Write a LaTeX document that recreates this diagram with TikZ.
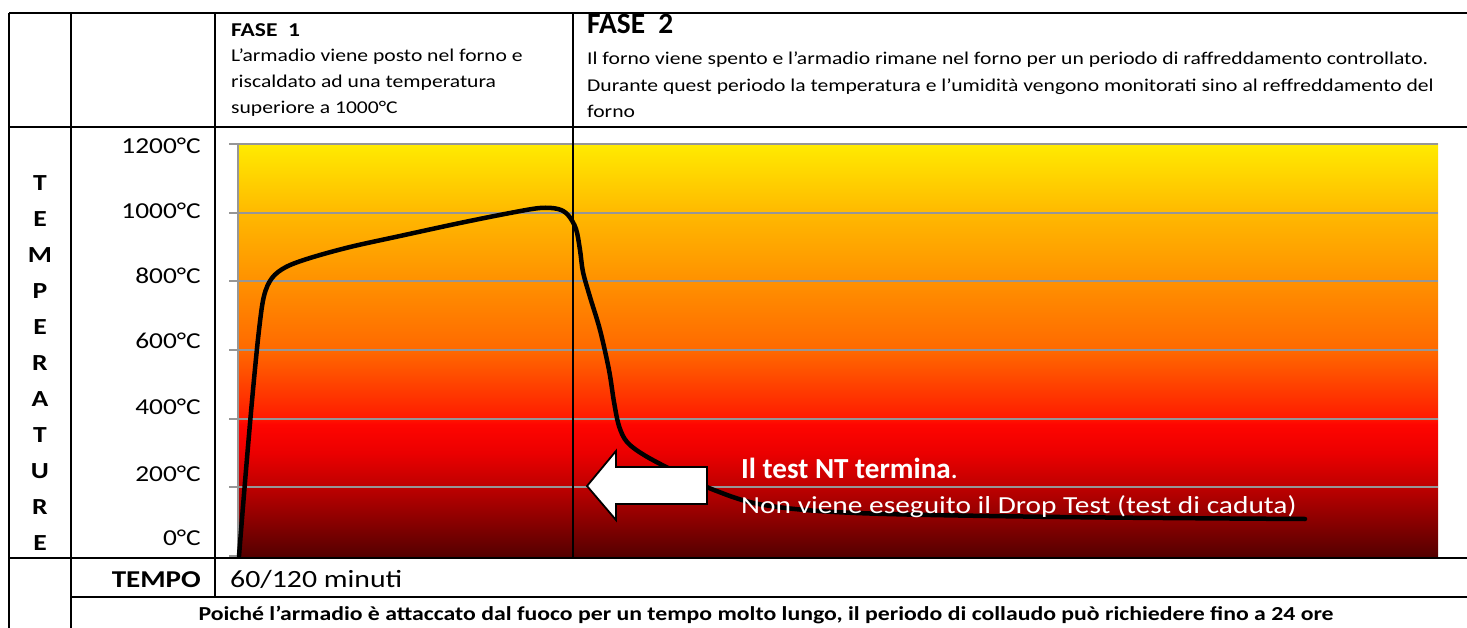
\documentclass[tikz,border=0pt]{standalone}
\usepackage{fontspec}
\setmainfont{Carlito}[FakeStretch=1.2]
\newfontfamily\plaincal{Carlito}
\definecolor{gridgray}{RGB}{150,150,150}
\definecolor{f0}{RGB}{85,0,0}
\definecolor{f1}{RGB}{135,0,0}
\definecolor{f2}{RGB}{190,0,0}
\definecolor{f3}{RGB}{235,0,0}
\definecolor{f4}{RGB}{255,5,0}
\definecolor{f5}{RGB}{255,30,0}
\definecolor{f6}{RGB}{255,105,0}
\definecolor{f7}{RGB}{255,145,0}
\definecolor{f8}{RGB}{255,185,0}
\definecolor{f9}{RGB}{255,235,0}
\pgfdeclareverticalshading{fire}{100bp}{color(0bp)=(f0); color(25bp)=(f0); color(29bp)=(f1); color(33.4bp)=(f2); color(37.5bp)=(f3); color(41bp)=(f4); color(42bp)=(f5); color(50bp)=(f6); color(58.4bp)=(f7); color(66.7bp)=(f8); color(75bp)=(f9); color(100bp)=(f9)}
\begin{document}
\begin{tikzpicture}[x=1pt,y=-1pt,
  tline/.style={line width=2.6pt,black},
  gline/.style={line width=2pt,gridgray},
  ylab/.style={anchor=east,inner sep=0pt,font=\fontsize{22.8}{22.8}\selectfont},
  vlet/.style={inner sep=0pt,font=\fontsize{23}{23}\selectfont\bfseries},
  hbody/.style={anchor=base west,inner sep=0pt,font=\fontsize{18}{18}\selectfont},
  wtext/.style={anchor=base west,inner sep=0pt,text=white}]
\fill[white] (0,0) rectangle (1467,628);
\useasboundingbox (0,0) rectangle (1467,628);
% chart background
\shade[shading=fire] (238,144) rectangle (1438,556);
% grid lines
\foreach \yy in {144,212.7,281.3,350,418.7,487.3}
  \draw[gline] (229,\yy) -- (1438,\yy);
\draw[gline] (238,144) -- (238,556);
\draw[gline] (229,556) -- (238,556);
% phase separator inside chart
\draw[line width=1.4pt] (573,127) -- (573,558);
% curve
\draw[line width=4.5pt,line cap=round,line join=round,black]
  plot[smooth,tension=0.55] coordinates {(239,556) (246,470) (253,390) (259,330) (264,296) (272,278) (286,267) (310,258) (350,247) (400,236) (460,223) (510,213) (540,208) (558,209) (568,215) (576,229) (580,250) (583,272) (590,297) (600,330) (609,370) (614,402) (619,426) (627,442) (644,455) (674,471) (714,490) (764,505) (856,513) (1060,517) (1305,519)};
% arrow
\draw[line width=1.8pt,fill=white,line join=miter] (587,486) -- (616,451) -- (616,467) -- (707,467) -- (707,504) -- (616,504) -- (616,520) -- cycle;
% chart texts
\node[wtext] (ntermina) at (741,478) {\plaincal\fontsize{29.1}{29.1}\selectfont\bfseries Il test NT termina\mdseries.};
\node[wtext,font=\fontsize{24.5}{24.5}\selectfont] (ndrop) at (741,513) {Non viene eseguito il Drop Test (test di caduta)};
% table lines
\draw[tline] (9,13) -- (1467,13);
\draw[tline] (9,127) -- (1467,127);
\draw[tline] (9,558) -- (1467,558);
\draw[tline] (71,597) -- (1467,597);
\draw[tline] (9,13) -- (9,628);
\draw[tline] (71,13) -- (71,628);
\draw[tline] (215,13) -- (215,597);
\draw[tline] (573,13) -- (573,127);
% header texts
\node[anchor=base west,inner sep=0pt,font=\fontsize{19.6}{19.6}\selectfont\bfseries] (f1t) at (231,36.5) {FASE\ \ 1};
\node[hbody] (f1a) at (231,61.7) {L’armadio viene posto nel forno e};
\node[hbody] (f1b) at (231,87.5) {riscaldato ad una temperatura};
\node[hbody] (f1c) at (231,113.3) {superiore a 1000°C};
\node[anchor=base west,inner sep=0pt] (f2t) at (587,34) {\plaincal\fontsize{29.4}{29.4}\selectfont\bfseries FASE\ \ 2};
\node[hbody] (f2a) at (587,65) {Il forno viene spento e l’armadio rimane nel forno per un periodo di raffreddamento controllato.};
\node[hbody] (f2b) at (587,91.5) {Durante quest periodo la temperatura e l’umidità vengono monitorati sino al reffreddamento del};
\node[hbody] (f2c) at (587,118) {forno};
% vertical word
\foreach \L [count=\i from 0] in {T,E,M,P,E,R,A,T,U,R,E}
  \node[vlet] (v\i) at (40,183.5+36*\i) {\L};
% y labels
\node[ylab] (y1200) at (201,146) {1200°C};
\node[ylab] (y1000) at (201,211) {1000°C};
\node[ylab] (y800) at (201,276) {800°C};
\node[ylab] (y600) at (201,341) {600°C};
\node[ylab] (y400) at (201,407) {400°C};
\node[ylab] (y200) at (201,473.5) {200°C};
\node[ylab] (y0) at (201,537.5) {0°C};
% bottom rows
\node[anchor=base east,inner sep=0pt,font=\fontsize{24.2}{24.2}\selectfont\bfseries] (tempo) at (201,587) {TEMPO};
\node[anchor=base west,inner sep=0pt,font=\fontsize{24.8}{24.8}\selectfont] (minuti) at (230,587) {60/120 minuti};
\node[anchor=base,inner sep=0pt,font=\fontsize{19.8}{19.8}\selectfont\bfseries] (note) at (766,620) {Poiché l’armadio è attaccato dal fuoco per un tempo molto lungo, il periodo di collaudo può richiedere fino a 24 ore};
\end{tikzpicture}
\end{document}
